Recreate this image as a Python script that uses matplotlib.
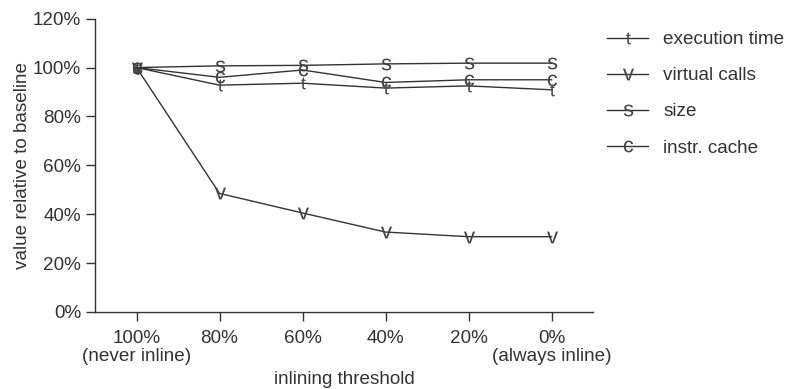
import numpy as np
import matplotlib
matplotlib.use("Agg")
import matplotlib.pyplot as plt

plt.rcParams['font.family'] = ['Liberation Sans', 'DejaVu Sans']
plt.rcParams['mathtext.fontset'] = 'custom'
plt.rcParams['mathtext.rm'] = 'Liberation Sans'

thresholds = ["100%\n(never inline)", "80%", "60%", "40%", "20%", "0%\n(always inline)"]
exec_time = [100, 92.8, 93.6, 91.6, 92.5, 90.9]
virtual_calls = [100, 48.5, 40.5, 32.7, 30.8, 30.8]
size = [100, 100.7, 100.9, 101.5, 101.8, 101.8]
instr_cache = [100, 96, 99, 93.9, 95, 95]

series = [
    (exec_time, 't', 'execution time'),
    (virtual_calls, 'v', 'virtual calls'),
    (size, 's', 'size'),
    (instr_cache, 'c', 'instr. cache'),
]

FS = 13.6
TXT = '#333333'

fig = plt.figure(figsize=(7.88, 3.89), dpi=100)
ax = fig.add_axes([0.1206, 0.198, 0.632, 0.754])

x = np.arange(len(thresholds))
for vals, letter, label in series:
    ax.plot(x, vals, color='#333333', lw=1.0,
            marker=r'$\mathrm{%s}$' % letter, markersize=8.5,
            markeredgewidth=0, markerfacecolor='#444444',
            label=label)

ax.set_xlim(-0.5, len(thresholds) - 0.5)
ax.set_ylim(0, 120)
ax.set_xticks(x)
ax.set_xticklabels(thresholds, linespacing=1.1)
ax.set_yticks(np.arange(0, 121, 20))
ax.set_yticklabels(['%d%%' % v for v in range(0, 121, 20)])

for s in ['top', 'right']:
    ax.spines[s].set_visible(False)
for s in ['left', 'bottom']:
    ax.spines[s].set_color('#333333')
    ax.spines[s].set_linewidth(1.0)
ax.tick_params(direction='out', length=6.5, width=1.0, color='#333333',
               labelcolor=TXT, labelsize=FS)
ax.tick_params(axis='y', pad=3.6)
ax.tick_params(axis='x', pad=6.5)

ax.set_xlabel('inlining threshold', fontsize=FS, color=TXT, va='top')
ax.xaxis.set_label_coords(0.5, -0.2)
ax.set_ylabel('value relative to baseline', fontsize=FS, color=TXT)
ax.yaxis.set_label_coords(-0.128, 0.5)

fig.legend(loc='upper left', bbox_to_anchor=(0.749, 0.964), frameon=False,
           fontsize=FS, handlelength=2.17, labelspacing=1.0,
           labelcolor=TXT)

fig.savefig('out.png', dpi=100)
